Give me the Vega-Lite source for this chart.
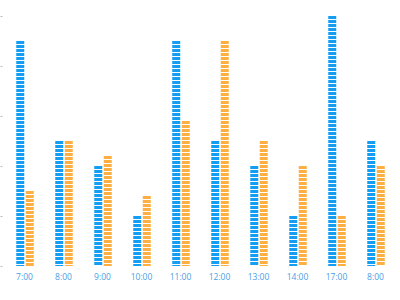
{
  "$schema": "https://vega.github.io/schema/vega-lite/v6.json",
  "autosize": {"type": "none"},
  "width": 390,
  "height": 250,
  "padding": {"left": 5, "top": 16, "right": 5, "bottom": 34},
  "background": "white",
  "data": {"values": [
    {"i": 0, "s": "a", "v": 45}, {"i": 0, "s": "b", "v": 15},
    {"i": 1, "s": "a", "v": 25}, {"i": 1, "s": "b", "v": 25},
    {"i": 2, "s": "a", "v": 20}, {"i": 2, "s": "b", "v": 22},
    {"i": 3, "s": "a", "v": 10}, {"i": 3, "s": "b", "v": 14},
    {"i": 4, "s": "a", "v": 45}, {"i": 4, "s": "b", "v": 29},
    {"i": 5, "s": "a", "v": 25}, {"i": 5, "s": "b", "v": 45},
    {"i": 6, "s": "a", "v": 20}, {"i": 6, "s": "b", "v": 25},
    {"i": 7, "s": "a", "v": 10}, {"i": 7, "s": "b", "v": 20},
    {"i": 8, "s": "a", "v": 50}, {"i": 8, "s": "b", "v": 10},
    {"i": 9, "s": "a", "v": 25}, {"i": 9, "s": "b", "v": 20}
  ]},
  "mark": {"type": "rule", "strokeWidth": 8, "strokeDash": [3, 1], "strokeCap": "butt"},
  "encoding": {
    "x": {
      "field": "i", "type": "ordinal",
      "scale": {"paddingInner": 0, "paddingOuter": 0},
      "axis": {
        "title": null, "domain": false, "ticks": false, "labelAngle": 0,
        "labelExpr": "['7:00','8:00','9:00','10:00','11:00','12:00','13:00','14:00','17:00','8:00'][datum.value]",
        "labelColor": "#4aa0e6", "labelFontSize": 8.5, "labelFont": "Open Sans", "labelPadding": 6
      }
    },
    "xOffset": {"field": "s", "type": "nominal", "scale": {"range": [10.5, 29.5], "paddingInner": 0, "paddingOuter": 0}},
    "y": {
      "field": "v", "type": "quantitative",
      "scale": {"domain": [0, 50]},
      "axis": {"title": null, "domain": false, "labels": false, "grid": false, "tickCount": 5, "tickSize": 2, "offset": 3, "tickColor": "#bbbbbb"}
    },
    "y2": {"datum": 0},
    "color": {
      "field": "s", "type": "nominal",
      "scale": {"domain": ["a", "b"], "range": ["#139ef3", "#fdb041"]},
      "legend": null
    }
  },
  "config": {"view": {"stroke": null}}
}
